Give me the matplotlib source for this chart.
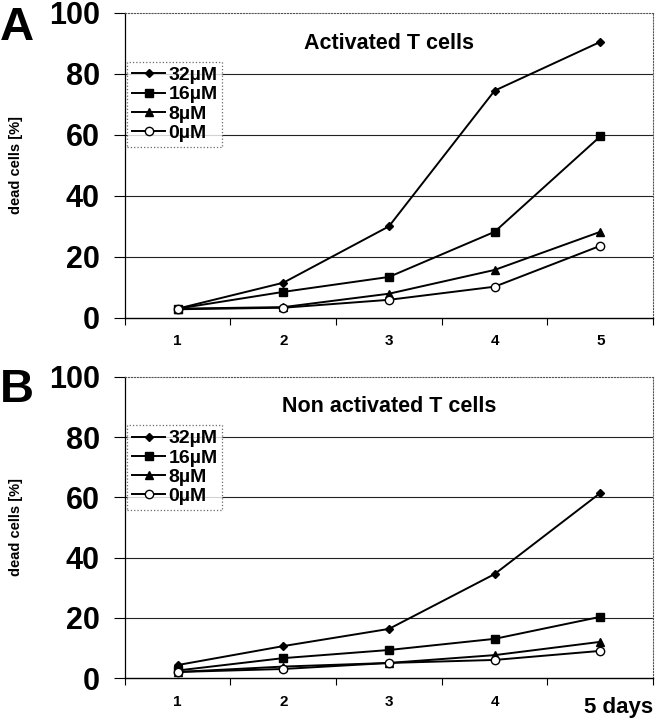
import matplotlib.pyplot as plt
import numpy as np

plt.rcParams['font.family'] = ['Liberation Sans', 'DejaVu Sans']
plt.rcParams['font.weight'] = 'bold'

days = [1, 2, 3, 4, 5]
day_labels = ['1', '2', '3', '4', '5']
series_names = ['32\u00b5M', '16\u00b5M', '8\u00b5M', '0\u00b5M']

# panel A: activated T cells
act_32 = [3.0, 11.5, 30.0, 74.5, 90.5]
act_16 = [3.0, 8.5, 13.4, 28.2, 59.5]
act_8 = [3.0, 3.5, 7.9, 15.7, 28.2]
act_0 = [2.8, 3.3, 5.9, 10.2, 23.6]

# panel B: non activated T cells
non_32 = [4.3, 10.6, 16.3, 34.5, 61.4]
non_16 = [2.5, 6.6, 9.3, 13.0, 20.3]
non_8 = [2.0, 3.8, 5.0, 7.6, 12.0]
non_0 = [2.0, 3.0, 5.0, 6.0, 9.0]

markers = [dict(marker='D', ms=4, mfc='black'),
           dict(marker='s', ms=6, mfc='black'),
           dict(marker='^', ms=6, mfc='black'),
           dict(marker='o', ms=6, mfc='white')]

fig = plt.figure(figsize=(6.57, 7.19), dpi=100)


def panel(rect, series, title, letter, letter_y, unit_label):
    ax = fig.add_axes(rect)
    for vals, name, mk in zip(series, series_names, markers):
        ax.plot(days, vals, color='black', lw=1.4, mec='black', label=name, **mk)
    ax.set_xlim(0.5, 5.5)
    ax.set_ylim(0, 100)
    ax.set_yticks([0, 20, 40, 60, 80, 100])
    ax.set_yticklabels(['0', '20', '40', '60', '80', '100'], fontsize=22, fontweight='bold')
    for y in [20, 40, 60, 80]:
        ax.axhline(y, color='#222222', lw=0.8, zorder=0)
    ax.set_xticks(np.arange(0.5, 5.6, 1.0))
    ax.set_xticklabels([])
    ax.set_xticks(days, minor=True)
    labels = day_labels if unit_label is None else day_labels[:-1] + ['']
    ax.set_xticklabels(labels, minor=True, fontsize=11, fontweight='bold')
    if unit_label is not None:
        ax.annotate(unit_label, xy=(1.0, 0), xycoords='axes fraction',
                    xytext=(0, -14), textcoords='offset points', ha='right', va='top',
                    fontsize=16, fontweight='bold')
    ax.tick_params(axis='x', which='minor', length=0, pad=12)
    ax.tick_params(axis='x', which='major', length=5, direction='out', width=0.8)
    ax.tick_params(axis='y', length=8, width=0.8, pad=10)
    ax.spines['left'].set_linewidth(0.9)
    ax.spines['bottom'].set_linewidth(1.0)
    for s in ['top', 'right']:
        ax.spines[s].set_linestyle(':')
        ax.spines[s].set_color('#555555')
        ax.spines[s].set_linewidth(0.8)
    ax.set_ylabel('dead cells [%]', fontsize=10.5, fontweight='bold')
    ax.yaxis.set_label_coords(-0.193, 0.5)
    ax.text(0.50, 0.90, title, transform=ax.transAxes, ha='center', va='center',
            fontsize=15.5, fontweight='bold')
    fig.text(0.0, letter_y, letter, fontsize=34, fontweight='bold',
             ha='left', va='baseline')
    leg = ax.legend(loc='upper left', bbox_to_anchor=(0.005, 0.84), frameon=True,
                    fancybox=False, edgecolor='#444444', handlelength=1.7,
                    handletextpad=0.15, borderpad=0.25, labelspacing=0.08,
                    borderaxespad=0.0,
                    prop={'weight': 'bold', 'size': 14})
    leg.get_frame().set_linestyle(':')
    leg.get_frame().set_linewidth(0.9)
    return ax


panel([0.190, 0.558, 0.804, 0.424], [act_32, act_16, act_8, act_0],
      'Activated T cells', 'A', 0.944, None)
panel([0.190, 0.057, 0.804, 0.419], [non_32, non_16, non_8, non_0],
      'Non activated T cells', 'B', 0.441, '5 days')

fig.savefig('out.png', dpi=100)
